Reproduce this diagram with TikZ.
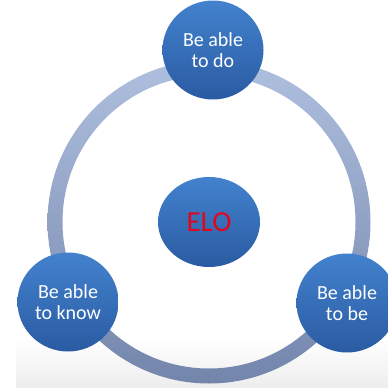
\documentclass[tikz,border=0pt]{standalone}
\usepackage{fontspec}
\setmainfont{Carlito}
\usetikzlibrary{shapes.geometric}

\definecolor{bubbletop}{HTML}{4382CE}
\definecolor{bubblebot}{HTML}{2A5BA2}
\definecolor{ringtop}{HTML}{AFBFDE}
\definecolor{ringbot}{HTML}{7485AC}
\definecolor{elored}{HTML}{E3061B}

\tikzset{
    bubble/.style={ellipse, minimum width=101pt, minimum height=99pt, inner sep=0pt,
        top color=bubbletop, bottom color=bubblebot, text=white, align=center,
        font=\fontsize{20}{21.5}\selectfont},
}

\begin{document}
\begin{tikzpicture}[x=1pt,y=-1pt]
    \useasboundingbox (0,0) rectangle (388,388);
    \coordinate (hub) at (209,222);

    \shade[top color=white, bottom color=black!7] (16,338) rectangle (388,388);
    \shade[top color=ringtop, bottom color=ringbot, even odd rule]
        (hub) circle[radius=161.5] circle[radius=146.5];

    \node[bubble, minimum width=102pt, minimum height=90pt, text=elored,
        font=\fontsize{29}{30}\selectfont] (elo) at (hub) {ELO};
    \node[bubble] (todo) at (213,50) {Be able\\to do};
    \node[bubble] (toknow) at (68,302) {Be able\\to know};
    \node[bubble] (tobe) at (347,303) {Be able\\to be};
\end{tikzpicture}
\end{document}
